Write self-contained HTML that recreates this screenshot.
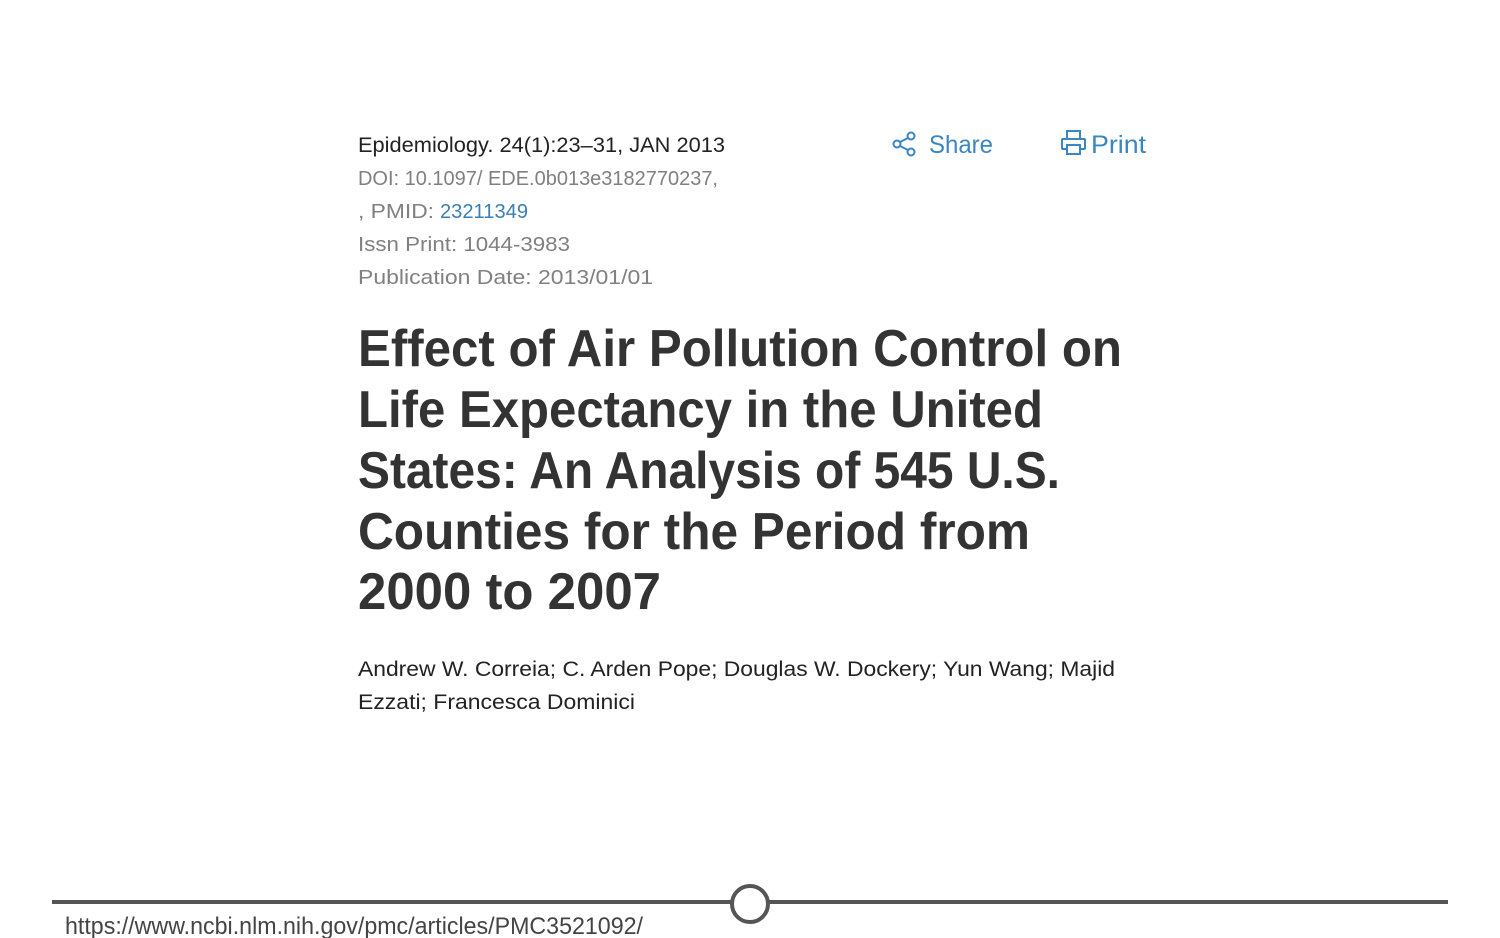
<!DOCTYPE html>
<html><head><meta charset="utf-8"><title>Article header</title>
<style>html,body{margin:0;padding:0;background:#fff;}svg{display:block;}</style></head>
<body>
<svg width="1500" height="938" viewBox="0 0 1500 938" xmlns="http://www.w3.org/2000/svg" font-family="'Liberation Sans', sans-serif">
  <rect width="1500" height="938" fill="#fff"/>
  <g>
    <text x="358" y="152" font-size="21" fill="#222" textLength="367" lengthAdjust="spacingAndGlyphs">Epidemiology. 24(1):23–31, JAN 2013</text>
    <text x="358" y="185" font-size="20" fill="#808080" textLength="360" lengthAdjust="spacingAndGlyphs">DOI: 10.1097/ EDE.0b013e3182770237,</text>
    <text x="358" y="218" font-size="20" fill="#808080" textLength="76" lengthAdjust="spacingAndGlyphs">,  PMID:</text>
    <text x="440" y="218" font-size="20" fill="#3a7fb8" textLength="88" lengthAdjust="spacingAndGlyphs">23211349</text>
    <text x="358" y="251" font-size="20" fill="#808080" textLength="212" lengthAdjust="spacingAndGlyphs">Issn Print: 1044-3983</text>
    <text x="358" y="284" font-size="20" fill="#808080" textLength="295" lengthAdjust="spacingAndGlyphs">Publication Date: 2013/01/01</text>
  </g>
  <g fill="none" stroke="#3a86c0" stroke-width="2">
    <circle cx="897" cy="144" r="3.5"/>
    <circle cx="911" cy="136" r="3.5"/>
    <circle cx="911" cy="152" r="3.5"/>
    <line x1="900" y1="142" x2="908" y2="138"/>
    <line x1="900" y1="146" x2="908" y2="150"/>
    <text x="929" y="153" font-size="25" fill="#3a86c0" stroke="none" textLength="64" lengthAdjust="spacingAndGlyphs">Share</text>
  </g>
  <g fill="none" stroke="#3a86c0" stroke-width="2">
    <rect x="1067" y="131" width="13" height="8"/>
    <rect x="1062" y="139" width="23" height="10" rx="1"/>
    <rect x="1067" y="145" width="13" height="9" fill="#fff"/>
    <text x="1091" y="153" font-size="25" fill="#3a86c0" stroke="none" textLength="55" lengthAdjust="spacingAndGlyphs">Print</text>
  </g>
  <g font-weight="bold" font-size="52" fill="#333">
    <text x="358" y="366" textLength="764" lengthAdjust="spacingAndGlyphs">Effect of Air Pollution Control on</text>
    <text x="358" y="427" textLength="685" lengthAdjust="spacingAndGlyphs">Life Expectancy in the United</text>
    <text x="358" y="488" textLength="702" lengthAdjust="spacingAndGlyphs">States: An Analysis of 545 U.S.</text>
    <text x="358" y="549" textLength="672" lengthAdjust="spacingAndGlyphs">Counties for the Period from</text>
    <text x="358" y="609" textLength="303" lengthAdjust="spacingAndGlyphs">2000 to 2007</text>
  </g>
  <g font-size="21" fill="#222">
    <text x="358" y="676" textLength="757" lengthAdjust="spacingAndGlyphs">Andrew W. Correia; C. Arden Pope; Douglas W. Dockery; Yun Wang; Majid</text>
    <text x="358" y="709" textLength="277" lengthAdjust="spacingAndGlyphs">Ezzati; Francesca Dominici</text>
  </g>
  <g>
    <line x1="52" y1="902" x2="1448" y2="902" stroke="#555" stroke-width="4"/>
    <circle cx="750" cy="904" r="18" fill="#fff" stroke="#555" stroke-width="4"/>
  </g>
  <text x="65" y="934" font-size="24" fill="#444" textLength="578" lengthAdjust="spacingAndGlyphs">https://www.ncbi.nlm.nih.gov/pmc/articles/PMC3521092/</text>
</svg>
</body></html>
